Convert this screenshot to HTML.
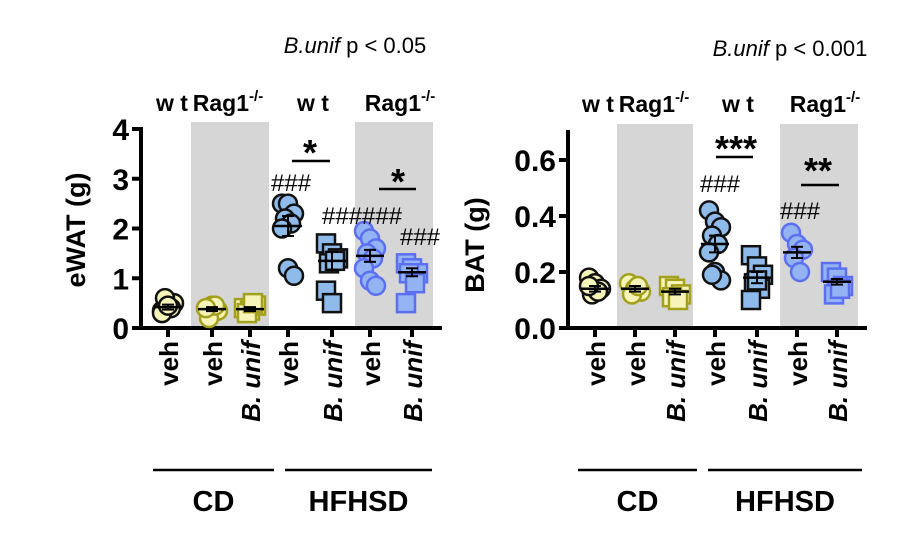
<!DOCTYPE html>
<html><head><meta charset="utf-8"><style>
body{margin:0;background:#fff;}
svg{display:block;font-family:"Liberation Sans",Arial,sans-serif;}
</style></head><body>
<svg id="chart" width="914" height="537" viewBox="0 0 914 537" xmlns="http://www.w3.org/2000/svg"></svg>
<script>
const categories = ["veh","veh","B. unif","veh","B. unif","veh","B. unif"];
const ewatValues = [
  [0.35,0.45,0.5,0.6,0.4,0.3,0.45],
  [0.4,0.45,0.35,0.2,0.45,0.4],
  [0.4,0.35,0.45,0.3,0.5],
  [2.5,2.5,2.3,2.2,2.1,2.0,1.2,1.05],
  [1.7,1.5,1.4,1.3,1.35,0.75,0.5],
  [1.95,1.8,1.6,1.5,1.4,1.2,0.95,0.85],
  [1.3,1.2,1.1,1.1,0.9,0.5]
];
const ewatMeans = [0.42,0.38,0.38,2.05,1.35,1.45,1.12];
const ewatSem = [0.05,0.04,0.04,0.2,0.18,0.12,0.08];
const batValues = [
  [0.18,0.16,0.14,0.12,0.13,0.15],
  [0.16,0.14,0.13,0.12,0.15],
  [0.15,0.14,0.12,0.11,0.10],
  [0.42,0.38,0.36,0.33,0.3,0.27,0.2,0.17,0.19],
  [0.26,0.22,0.19,0.16,0.14,0.1,0.17],
  [0.34,0.3,0.28,0.25,0.2],
  [0.2,0.18,0.15,0.12,0.14]
];
const batMeans = [0.14,0.14,0.13,0.30,0.18,0.27,0.165];
const batSem = [0.01,0.01,0.01,0.03,0.02,0.02,0.01];
const ewatTicks = ["0","1","2","3","4"];
const batTicks = ["0.0","0.2","0.4","0.6"];

const NS="http://www.w3.org/2000/svg";
const svg=document.getElementById('chart');
function el(tag,attrs,parent){const e=document.createElementNS(NS,tag);for(const k in attrs)e.setAttribute(k,attrs[k]);(parent||svg).appendChild(e);return e;}
function txt(s,attrs,parent){const e=el('text',attrs,parent);e.textContent=s;return e;}

const styles=[
 {shape:'c',fill:'#f6f4b8',stroke:'#111'},
 {shape:'c',fill:'#f6f4b8',stroke:'#a3a01c'},
 {shape:'s',fill:'#f6f4b8',stroke:'#a3a01c'},
 {shape:'c',fill:'#8fbbea',stroke:'#111'},
 {shape:'s',fill:'#8fbbea',stroke:'#111'},
 {shape:'c',fill:'#93b3f3',stroke:'#5b6ff0'},
 {shape:'s',fill:'#93b3f3',stroke:'#5b6ff0'}
];
const jit=[-6,0,6,-3,3];

function panel(cfg){
  const g=el('g',{});
  
  
  const y=v=>cfg.y0-(v/cfg.max)*(cfg.y0-cfg.yTopVal);
  cfg.bands.forEach((b,i)=>{
    const r=el('rect',{x:b[0],y:cfg.bandTop,width:b[1]-b[0],height:cfg.y0-cfg.bandTop,fill:'#d6d6d6'},g);
    
    
  });
  const ya=el('line',{x1:cfg.ax,y1:cfg.axTop,x2:cfg.ax,y2:cfg.y0+2,stroke:'#000','stroke-width':4},g);
  
  const xa=el('line',{x1:cfg.ax-2,y1:cfg.y0,x2:cfg.axRight,y2:cfg.y0,stroke:'#000','stroke-width':4},g);
  
  cfg.ticks.forEach(t=>{
    const v=parseFloat(t),yy=y(v);
    el('line',{x1:cfg.ax-9,y1:yy,x2:cfg.ax,y2:yy,stroke:'#000','stroke-width':4},g);
    const tl=txt(t,{x:cfg.ax-12,y:yy+11,'text-anchor':'end','font-size':30,'font-weight':'bold'},g);
    
  });
  const yt=txt(cfg.ytitle,{x:0,y:0,'text-anchor':'middle','font-size':27,'font-weight':'bold',transform:`translate(${cfg.ytx},${cfg.yty}) rotate(-90)`},g);
  
  cfg.xs.forEach((cx,i)=>{
    el('line',{x1:cx,y1:cfg.y0,x2:cx,y2:cfg.y0+9,stroke:'#000','stroke-width':4},g);
    const st=styles[i];
    const vals=cfg.values[i];
    vals.forEach((v,j)=>{
      const dx=jit[j%5];
      let m;
      if(st.shape==='c') m=el('circle',{cx:cx+dx,cy:y(v),r:9,fill:st.fill,stroke:st.stroke,'stroke-width':2.5},g);
      else m=el('rect',{x:cx+dx-9,y:y(v)-9,width:18,height:18,fill:st.fill,stroke:st.stroke,'stroke-width':2.5},g);
      
      
    });
    const my=y(cfg.means[i]),sy1=y(cfg.means[i]+cfg.sem[i]),sy2=y(cfg.means[i]-cfg.sem[i]);
    const mean=el('line',{x1:cx-14,y1:my,x2:cx+14,y2:my,stroke:'#000','stroke-width':2.5},g);
    
    el('line',{x1:cx,y1:sy1,x2:cx,y2:sy2,stroke:'#000','stroke-width':2},g);
    el('line',{x1:cx-6,y1:sy1,x2:cx+6,y2:sy1,stroke:'#000','stroke-width':2},g);
    el('line',{x1:cx-6,y1:sy2,x2:cx+6,y2:sy2,stroke:'#000','stroke-width':2},g);
    const lab=categories[i];
    const t=el('text',{x:0,y:0,'text-anchor':'end','font-size':26,'font-weight':'bold',transform:`translate(${cx+10},${cfg.y0+13}) rotate(-90)`},g);
    
    if(lab==='veh'){t.textContent='veh';}
    else{const s=el('tspan',{'font-style':'italic'},t);s.textContent='B. unif';}
  });
  cfg.groups.forEach(gr=>{
    el('line',{x1:gr.x1,y1:cfg.gy,x2:gr.x2,y2:cfg.gy,stroke:'#000','stroke-width':2.5},g);
    const gt=txt(gr.label,{x:(gr.x1+gr.x2)/2,y:cfg.gy+41,'text-anchor':'middle','font-size':29,'font-weight':'bold'},g);
    
  });
  cfg.geno.forEach(gl=>{
    const t=el('text',{x:gl.x,y:cfg.genoY,'text-anchor':'middle','font-size':23,'font-weight':'bold'},g);
    
    if(gl.t==='wt'){t.textContent='w t';}
    else{t.appendChild(document.createTextNode('Rag1'));const s=el('tspan',{dy:-10,'font-size':15},t);s.textContent='-/-';}
  });
  const tt=el('text',{x:cfg.titleX,y:cfg.titleY,'text-anchor':'middle','font-size':22},g);
  
  const it=el('tspan',{'font-style':'italic'},tt);it.textContent='B.unif';
  tt.appendChild(document.createTextNode(' p < '+cfg.p));
  cfg.ann.forEach(a=>{
    const t=txt(a.t,{x:a.x,y:a.y,'text-anchor':'middle','font-size':a.s||24,'font-weight':a.b?'bold':'normal'},g);
    
  });
  cfg.bars.forEach(b=>el('line',{x1:b[0],y1:b[2],x2:b[1],y2:b[2],stroke:'#000','stroke-width':2.5},g));
}

panel({name:'ewat-panel',y0:328,yTopVal:129,max:4,ax:141,axTop:127,axRight:442,bandTop:122,
 bands:[[191,269],[355,433]],ticks:ewatTicks,ytitle:'eWAT (g)',ytx:85,yty:230,
 xs:[168,212,250,288,332,370,412],values:ewatValues,means:ewatMeans,sem:ewatSem,
 groups:[{x1:153,x2:274,label:'CD'},{x1:285,x2:432,label:'HFHSD'}],gy:470,
 geno:[{x:172,t:'wt'},{x:228,t:'Rag1'},{x:313,t:'wt'},{x:400,t:'Rag1'}],genoY:111,
 titleX:355,titleY:53,p:'0.05',
 ann:[{t:'*',x:310,y:165,s:36,b:1},{t:'###',x:291,y:191},{t:'###',x:342,y:224},{t:'###',x:382,y:224},{t:'###',x:420,y:245},{t:'*',x:398,y:194,s:36,b:1}],
 bars:[[292,330,161],[379,416,189]]});

panel({name:'bat-panel',y0:328,yTopVal:160,max:0.6,ax:568,axTop:130,axRight:867,bandTop:124,
 bands:[[617,693],[780,858]],ticks:batTicks,ytitle:'BAT (g)',ytx:484,yty:245,
 xs:[595,635,675,715,757,797,837],values:batValues,means:batMeans,sem:batSem,
 groups:[{x1:578,x2:697,label:'CD'},{x1:708,x2:862,label:'HFHSD'}],gy:470,
 geno:[{x:598,t:'wt'},{x:654,t:'Rag1'},{x:738,t:'wt'},{x:825,t:'Rag1'}],genoY:112,
 titleX:790,titleY:56,p:'0.001',
 ann:[{t:'***',x:736,y:161,s:36,b:1},{t:'###',x:720,y:192},{t:'###',x:800,y:219},{t:'**',x:818,y:183,s:36,b:1}],
 bars:[[716,753,157],[801,839,185]]});
</script>
</body></html>
